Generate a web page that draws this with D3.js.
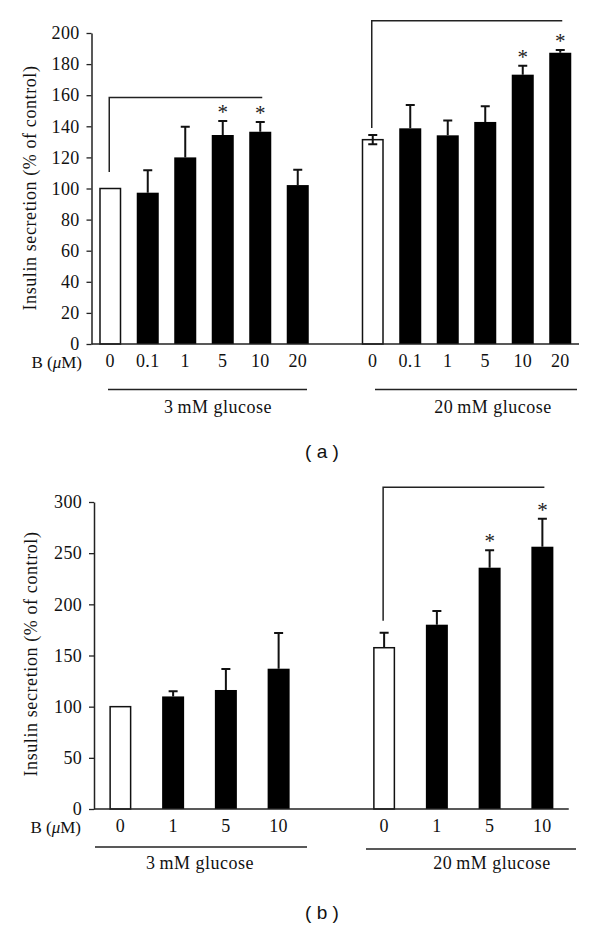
<!DOCTYPE html>
<html>
<head>
<meta charset="utf-8">
<script src="https://cdn.jsdelivr.net/npm/d3@7"></script>
<style>
  html, body { margin: 0; padding: 0; background: #fff; }
  svg { display: block; }
</style>
</head>
<body>
<svg id="chart" width="600" height="930"></svg>
<script>
// ---------- Data ----------
// Panel (a)
const aDoses = ["0", "0.1", "1", "5", "10", "20"];
const aLowGlucose = [100, 97.3, 120, 134.4, 136.5, 102.2];
const aLowErr = [0, 14.4, 19.7, 9, 6.3, 9.8];
const aLowStar = [false, false, false, true, true, false];
const aHighGlucose = [131.4, 138.7, 134.2, 142.8, 173.2, 187.3];
const aHighErr = [3, 15, 9.6, 10.1, 5.8, 1.7];
const aHighStar = [false, false, false, false, true, true];
const aTicks = [0, 20, 40, 60, 80, 100, 120, 140, 160, 180, 200];
const aBracketLevels = [158.6, 207.9];   // bracket heights (left, right group)
const aBracketDrops = [110.6, 138.9];    // where the bracket's vertical ends

// Panel (b)
const bDoses = ["0", "1", "5", "10"];
const bLowGlucose = [100, 110, 116.3, 137.1];
const bLowErr = [0, 5, 20.5, 35];
const bLowStar = [false, false, false, false];
const bHighGlucose = [157.6, 180.1, 235.8, 256.3];
const bHighErr = [14.7, 13.4, 17, 27.4];
const bHighStar = [false, false, true, true];
const bTicks = [0, 50, 100, 150, 200, 250, 300];
const bBracketLevels = [314.4];
const bBracketDrops = [184];

const groupLabels = ["3\u2009mM glucose", "20\u2009mM glucose"];
const yLabel = "Insulin secretion (% of control)";

const SERIF = "'Liberation Serif', 'Times New Roman', serif";
const svg = d3.select("#chart");

function drawPanel(cfg) {
  const g = svg.append("g");
  const n = cfg.doses.length;
  const slots = d3.range(2 * n + 1);
  const x = d3.scaleBand().domain(slots).range([cfg.axisX, cfg.xEnd])
    .paddingInner(cfg.padIn).paddingOuter(cfg.padIn / 2);
  const y = d3.scaleLinear().domain([0, cfg.yMax]).range([cfg.y0, cfg.yTop]);

  const bars = [];
  cfg.low.forEach((v, i) => bars.push({slot: i, v, e: cfg.lowErr[i], star: cfg.lowStar[i], ctrl: i === 0, down: false, dose: cfg.doses[i]}));
  cfg.high.forEach((v, i) => bars.push({slot: n + 1 + i, v, e: cfg.highErr[i], star: cfg.highStar[i], ctrl: i === 0, down: i === 0 && cfg.ctrlDown, dose: cfg.doses[i]}));

  // brackets
  cfg.brackets.forEach(b => {
    const xa = x(b.from) + x.bandwidth() / 2 - 1;
    const xb = x(b.to) + x.bandwidth() / 2 + 2;
    g.append("path")
      .attr("d", `M${xa},${y(b.drop)}V${y(b.level)}H${xb}`)
      .attr("fill", "none").attr("stroke", "#222").attr("stroke-width", 1.5);
  });

  // bars
  g.selectAll("rect.bar").data(bars).join("rect")
    .attr("class", "bar")
    .attr("x", d => x(d.slot) + (d.ctrl ? 0.75 : 0))
    .attr("width", d => x.bandwidth() - (d.ctrl ? 1.5 : 0))
    .attr("y", d => y(d.v))
    .attr("height", d => y(0) - y(d.v))
    .attr("fill", d => d.ctrl ? "#fff" : "#000")
    .attr("stroke", d => d.ctrl ? "#111" : "none")
    .attr("stroke-width", 1.5);

  // error bars
  const eb = bars.filter(d => d.e > 0);
  const cx = d => x(d.slot) + x.bandwidth() / 2;
  g.selectAll("path.err").data(eb).join("path")
    .attr("class", "err")
    .attr("d", d => {
      const top = y(d.v + d.e), base = d.down ? y(d.v - d.e) : y(d.v);
      let p = `M${cx(d)},${base}V${top}M${cx(d) - 4.5},${top}H${cx(d) + 4.5}`;
      if (d.down) p += `M${cx(d) - 4.5},${base}H${cx(d) + 4.5}`;
      return p;
    })
    .attr("fill", "none").attr("stroke", "#111").attr("stroke-width", 2);

  // stars
  g.selectAll("text.star").data(bars.filter(d => d.star)).join("text")
    .attr("class", "star")
    .attr("x", cx)
    .attr("y", d => y(d.v + d.e) - 2)
    .attr("text-anchor", "middle")
    .attr("font-family", SERIF)
    .attr("font-size", 21)
    .attr("fill", "#222")
    .text("*");

  // y axis
  const yAxis = d3.axisLeft(y).tickValues(cfg.ticks).tickSize(5).tickPadding(7).tickSizeOuter(0);
  const ya = g.append("g").attr("transform", `translate(${cfg.axisX},0)`).call(yAxis)
    .attr("font-family", SERIF).attr("font-size", 18);
  ya.select(".domain").attr("stroke", "#222").attr("stroke-width", 1.5);
  ya.selectAll(".tick line").attr("stroke", "#222").attr("stroke-width", 1.3);
  ya.selectAll(".tick text").attr("font-family", SERIF).attr("font-size", 18)
    .attr("letter-spacing", 0.3).attr("fill", "#111");

  // baseline
  g.append("line").attr("x1", cfg.axisX).attr("x2", cfg.xEnd)
    .attr("y1", y(0)).attr("y2", y(0)).attr("stroke", "#222").attr("stroke-width", 1.5);

  // dose labels
  g.selectAll("text.dose").data(bars).join("text")
    .attr("class", "dose")
    .attr("x", cx).attr("y", y(0) + cfg.doseDy)
    .attr("text-anchor", "middle").attr("font-family", SERIF)
    .attr("font-size", 18).attr("letter-spacing", 0.3)
    .attr("fill", "#111")
    .text(d => d.dose);

  const bl = g.append("text")
    .attr("x", cfg.bLabelX).attr("y", y(0) + cfg.doseDy + 1)
    .attr("text-anchor", "end").attr("font-family", SERIF)
    .attr("font-size", 17).attr("fill", "#111");
  bl.append("tspan").text("B (");
  bl.append("tspan").attr("font-style", "italic").text("\u03BC");
  bl.append("tspan").text("M)");

  // group lines and labels
  cfg.groupLines.forEach((gl, i) => {
    g.append("line").attr("x1", gl[0]).attr("x2", gl[1])
      .attr("y1", gl[2]).attr("y2", gl[2]).attr("stroke", "#222").attr("stroke-width", 1.5);
    g.append("text")
      .attr("x", cfg.groupTextX[i]).attr("y", cfg.groupTextY)
      .attr("text-anchor", "middle").attr("font-family", SERIF)
      .attr("font-size", 18).attr("letter-spacing", 0.5)
      .attr("fill", "#111").text(groupLabels[i]);
  });

  // y label
  g.append("text")
    .attr("transform", `translate(${cfg.yLabelX},${cfg.yLabelY}) rotate(-90)`)
    .attr("text-anchor", "middle").attr("font-family", SERIF)
    .attr("font-size", 18).attr("letter-spacing", 0.6)
    .attr("fill", "#111").text(yLabel);

  // panel letter
  g.append("text")
    .attr("x", 322).attr("y", cfg.letterY)
    .attr("text-anchor", "middle")
    .attr("font-family", "'Liberation Sans', Arial, sans-serif")
    .attr("font-size", 19).attr("fill", "#111")
    .attr("xml:space", "preserve")
    .text(cfg.letter);
}

drawPanel({
  doses: aDoses, low: aLowGlucose, lowErr: aLowErr, lowStar: aLowStar,
  high: aHighGlucose, highErr: aHighErr, highStar: aHighStar, ctrlDown: true,
  ticks: aTicks, yMax: 200, y0: 344, yTop: 33,
  axisX: 91.5, xEnd: 579, padIn: 0.413,
  brackets: [
    {from: 0, to: 4, level: aBracketLevels[0], drop: aBracketDrops[0]},
    {from: 7, to: 12, level: aBracketLevels[1], drop: aBracketDrops[1]}
  ],
  doseDy: 23, bLabelX: 82,
  groupLines: [[108, 307, 389.5], [375, 577, 389.5]],
  groupTextX: [218, 493], groupTextY: 413,
  yLabelX: 36, yLabelY: 188,
  letter: "( a )", letterY: 458
});

drawPanel({
  doses: bDoses, low: bLowGlucose, lowErr: bLowErr, lowStar: bLowStar,
  high: bHighGlucose, highErr: bHighErr, highStar: bHighStar, ctrlDown: false,
  ticks: bTicks, yMax: 300, y0: 809, yTop: 502,
  axisX: 94, xEnd: 568.75, padIn: 0.583,
  brackets: [
    {from: 5, to: 8, level: bBracketLevels[0], drop: bBracketDrops[0]}
  ],
  doseDy: 23, bLabelX: 81,
  groupLines: [[95, 307, 847], [366, 576, 849]],
  groupTextX: [200, 492], groupTextY: 869,
  yLabelX: 37, yLabelY: 654,
  letter: "( b )", letterY: 919
});
</script>
</body>
</html>
